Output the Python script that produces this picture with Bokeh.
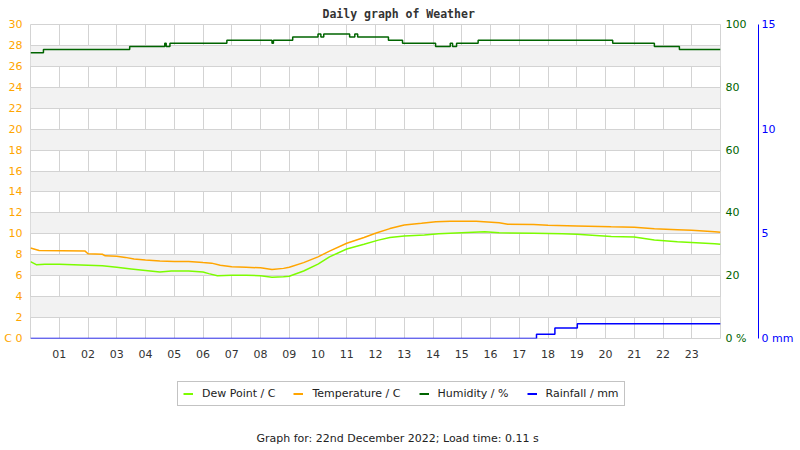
from bokeh.plotting import figure
from bokeh.layouts import column
from bokeh.models import (Range1d, LinearAxis, FixedTicker, Legend, LegendItem, Title, Label)
from bokeh.embed import file_html
from bokeh.resources import INLINE

# ---- data ----
hour_ticks = list(range(1, 24))
hour_labels = ["%02d" % h for h in hour_ticks]

temp_hours = [0.0, 0.3, 1.9, 2.0, 2.5, 2.6, 3.0, 3.3, 3.6, 4.0, 4.5, 5.0, 5.5, 6.0, 6.3, 6.6,
              7.0, 7.5, 8.0, 8.4, 8.8, 9.0, 9.5, 10.0, 10.4, 11.0, 11.6, 12.0, 12.5, 13.0,
              13.6, 14.1, 14.6, 15.5, 16.3, 16.6, 17.5, 18.0, 19.0, 20.2, 21.0, 21.7, 22.5,
              23.0, 23.8, 24.0]
temp_vals = [8.65, 8.4, 8.35, 8.1, 8.05, 7.9, 7.85, 7.75, 7.6, 7.5, 7.4, 7.35, 7.35, 7.25,
             7.2, 7.0, 6.85, 6.8, 6.75, 6.6, 6.7, 6.8, 7.25, 7.8, 8.35, 9.1, 9.65, 10.05,
             10.5, 10.85, 11.0, 11.15, 11.2, 11.2, 11.05, 10.92, 10.88, 10.83, 10.76,
             10.67, 10.62, 10.48, 10.4, 10.35, 10.19, 10.15]

dew_hours = [0.0, 0.2, 0.5, 1.0, 2.0, 2.5, 3.0, 3.5, 4.0, 4.5, 4.9, 5.5, 6.0, 6.2, 6.5, 7.0,
             7.5, 8.0, 8.4, 8.8, 9.0, 9.5, 10.0, 10.4, 11.0, 11.6, 12.1, 12.5, 13.0, 13.7,
             14.2, 15.0, 15.8, 16.3, 17.5, 18.5, 19.0, 20.2, 21.0, 21.7, 22.5, 23.8, 24.0]
dew_vals = [7.35, 7.05, 7.1, 7.1, 7.0, 6.95, 6.8, 6.65, 6.5, 6.35, 6.45, 6.45, 6.35, 6.2,
            6.0, 6.05, 6.05, 6.0, 5.85, 5.9, 5.95, 6.45, 7.1, 7.8, 8.55, 9.0, 9.4, 9.65,
            9.8, 9.9, 10.0, 10.1, 10.2, 10.1, 10.05, 10.0, 9.95, 9.75, 9.7, 9.4, 9.25,
            9.05, 9.0]

hum_hours = [0.0, 0.45, 3.45, 4.67, 4.72, 4.85, 6.83, 8.4, 8.45, 9.12, 10.0, 10.1, 10.2,
             11.1, 11.28, 11.38, 12.45, 12.94, 14.09, 14.6, 14.68, 14.82, 15.57, 20.25,
             21.7, 22.57, 24.0]
hum_vals = [91, 92, 93, 94, 93, 94, 95, 94, 95, 96, 97, 96, 97, 96, 97, 96, 95, 94, 93,
            94, 93, 94, 95, 94, 93, 92, 92]

rain_hours = [0.0, 17.6, 18.24, 19.02, 24.0]
rain_vals = [0.0, 0.2, 0.5, 0.7, 0.7]

temp_ticks = list(range(0, 31, 2))
hum_ticks = [0, 20, 40, 60, 80, 100]
rain_ticks = [0, 5, 10, 15]

series_names = ["Dew Point / C", "Temperature / C", "Humidity / %", "Rainfall / mm"]

DEW = "#7CFC00"
TEMP = "#FFA500"
HUM = "#006400"
RAIN = "#0000FF"
GRID = "#d3d3d3"
FONT = "DejaVu Sans"

p = figure(width=800, height=378, output_backend="svg", toolbar_location=None,
           x_range=Range1d(0, 24), y_range=Range1d(0, 30),
           min_border_left=30, min_border_right=80, min_border_top=23,
           min_border_bottom=40)
p.outline_line_color = GRID
p.background_fill_color = "white"
p.border_fill_color = "white"

p.extra_y_ranges = {"hum": Range1d(0, 100), "rain": Range1d(0, 15)}


def plain(ax, color, standoff, size="11px"):
    ax.axis_line_color = None
    ax.major_tick_line_color = None
    ax.minor_tick_line_color = None
    ax.major_tick_out = 0
    ax.major_tick_in = 0
    ax.minor_tick_out = 0
    ax.minor_tick_in = 0
    ax.major_label_standoff = standoff
    ax.major_label_text_font = FONT
    ax.major_label_text_font_size = size
    ax.major_label_text_color = color


# title
p.title = Title(text="Daily graph of Weather", align="left", offset=292, standoff=8,
                text_font="DejaVu Sans Mono", text_font_style="bold",
                text_font_size="11.5px", text_color="#333333")

# x axis
xa = p.xaxis[0]
xa.ticker = FixedTicker(ticks=hour_ticks)
xa.major_label_overrides = {h: lab for h, lab in zip(hour_ticks, hour_labels)}
plain(xa, "#333333", 11)

# left axis (temperature)
ya = p.yaxis[0]
ya.ticker = FixedTicker(ticks=temp_ticks)
plain(ya, TEMP, 8)
ya.major_label_overrides = {0: "C 0"}

# grids
p.xgrid.ticker = FixedTicker(ticks=hour_ticks)
p.xgrid.grid_line_color = GRID
p.ygrid.ticker = FixedTicker(ticks=temp_ticks)
p.ygrid.grid_line_color = GRID
p.ygrid.band_fill_color = "#f2f2f2"
p.ygrid.band_fill_alpha = 1.0

# humidity axis
hax = LinearAxis(y_range_name="hum", ticker=FixedTicker(ticks=hum_ticks))
plain(hax, HUM, 5)
hax.major_label_overrides = {0: "0 %"}
hax.axis_label = "\u00a0"
hax.axis_label_text_font_size = "5px"
hax.axis_label_standoff = 0
p.add_layout(hax, "right")

# rain axis
rax = LinearAxis(y_range_name="rain", ticker=FixedTicker(ticks=rain_ticks))
plain(rax, RAIN, 3)
rax.axis_line_color = RAIN
rax.axis_line_width = 1
rax.major_label_overrides = {0: "0 mm"}
p.add_layout(rax, "right")

# series
r_dew = p.line(dew_hours, dew_vals, line_color=DEW, line_width=1.5)
r_temp = p.line(temp_hours, temp_vals, line_color=TEMP, line_width=1.5)
r_hum = p.step(hum_hours, hum_vals, mode="after", line_color=HUM, line_width=1.5,
               y_range_name="hum")
r_rain = p.step(rain_hours, rain_vals, mode="after", line_color=RAIN, line_width=1.5,
                y_range_name="rain")

# ---- legend + footer strip (its own ranges keep the key lines out of view) ----
q = figure(width=800, height=72, output_backend="svg", toolbar_location=None,
           x_range=Range1d(0, 24), y_range=Range1d(1000, 1001),
           x_axis_location=None, y_axis_location=None, min_border=0)
q.outline_line_color = None
q.grid.visible = False
q.background_fill_color = "white"
q.border_fill_color = "white"

key_data = [(dew_hours, dew_vals), (temp_hours, temp_vals), (hum_hours, hum_vals),
            (rain_hours, rain_vals)]
keys = []
for name, col, (xs, ys) in zip(series_names, [DEW, TEMP, HUM, RAIN], key_data):
    rr = q.line(xs, ys, line_color=col, line_width=2)
    keys.append(LegendItem(label=name, renderers=[rr]))

legend = Legend(items=keys, orientation="horizontal", location=(147, 44))
legend.label_text_font = FONT
legend.label_text_font_size = "11px"
legend.label_text_color = "#222222"
legend.label_height = 13
legend.glyph_height = 13
legend.glyph_width = 10
legend.label_standoff = 9
legend.spacing = 18
legend.padding = 5
legend.margin = 0
legend.border_line_color = "#888888"
legend.border_line_width = 1
legend.background_fill_color = "white"
legend.background_fill_alpha = 1.0
q.add_layout(legend, "center")

q.add_layout(Label(x=367, y=12, x_units="screen", y_units="screen",
                   text="Graph for: 22nd December 2022; Load time: 0.11 s",
                   text_align="center", text_baseline="middle", text_font=FONT,
                   text_font_size="11px", text_color="#222222"))

open("out.html", "w").write(file_html(column(p, q, spacing=0), INLINE))
